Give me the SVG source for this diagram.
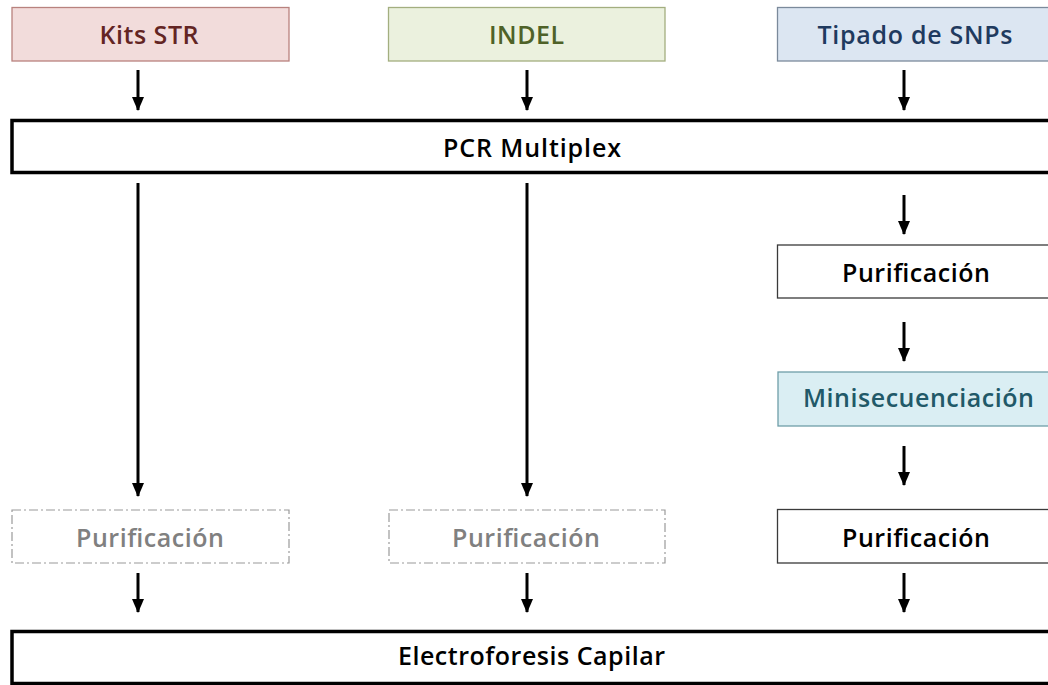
<svg xmlns="http://www.w3.org/2000/svg" width="1048" height="685" viewBox="0 0 1048 685">
<defs>
<marker id="ah" markerUnits="userSpaceOnUse" markerWidth="16" markerHeight="14" refX="14" refY="7" orient="auto" viewBox="0 0 16 14">
<path d="M1,1 L15,7 L1,13 Z" fill="#000"/>
</marker>
<style>
text{font-family:"Open Sans","Noto Sans","Liberation Sans",sans-serif;font-weight:600;font-size:25px;text-anchor:middle}
.arr{stroke:#000;stroke-width:3;fill:none}
.thin{fill:#fff;stroke:#3a3a3a;stroke-width:1.3}
.thick{fill:#fff;stroke:#000;stroke-width:3.5}
.dash{fill:#fff;stroke:#9a9a9a;stroke-width:1.2;stroke-dasharray:9 3 2 3}
</style>
</defs>
<rect width="1048" height="685" fill="#fff"/>
<g id="connectors">
<line class="arr" x1="138" y1="70" x2="138" y2="110" marker-end="url(#ah)"/>
<line class="arr" x1="527" y1="70" x2="527" y2="110" marker-end="url(#ah)"/>
<line class="arr" x1="904" y1="70" x2="904" y2="110" marker-end="url(#ah)"/>
<line class="arr" x1="138" y1="183" x2="138" y2="496" marker-end="url(#ah)"/>
<line class="arr" x1="527" y1="183" x2="527" y2="496" marker-end="url(#ah)"/>
<line class="arr" x1="904" y1="195" x2="904" y2="234" marker-end="url(#ah)"/>
<line class="arr" x1="904" y1="322" x2="904" y2="361" marker-end="url(#ah)"/>
<line class="arr" x1="904" y1="446" x2="904" y2="485" marker-end="url(#ah)"/>
<line class="arr" x1="138" y1="573" x2="138" y2="612" marker-end="url(#ah)"/>
<line class="arr" x1="527" y1="573" x2="527" y2="612" marker-end="url(#ah)"/>
<line class="arr" x1="904" y1="573" x2="904" y2="612" marker-end="url(#ah)"/>
</g>
<g id="kits-str">
<rect x="12" y="7.5" width="277" height="53.5" fill="#f2dcdb" stroke="#b8827e" stroke-width="1.3"/>
<text x="149" y="44" fill="#632523" textLength="99">Kits STR</text>
</g>
<g id="indel">
<rect x="388.5" y="7.5" width="276.5" height="53.5" fill="#ebf1de" stroke="#a3ae7f" stroke-width="1.3"/>
<text x="526.5" y="44" fill="#4f6228" textLength="75">INDEL</text>
</g>
<g id="tipado-snps">
<rect x="777.5" y="7.5" width="290" height="53.5" fill="#dce6f2" stroke="#7b8a9b" stroke-width="1.3"/>
<text x="915" y="44" fill="#1f3a5f" textLength="195">Tipado de SNPs</text>
</g>
<g id="pcr-multiplex">
<rect class="thick" x="12" y="120.5" width="1060" height="52"/>
<text x="532" y="157" fill="#000" textLength="178">PCR Multiplex</text>
</g>
<g id="purificacion-snp-1">
<rect class="thin" x="777.5" y="245" width="290" height="53"/>
<text x="916" y="282" fill="#000" textLength="148">Purificación</text>
</g>
<g id="minisecuenciacion">
<rect x="778" y="372" width="290" height="54" fill="#daeef3" stroke="#6f9ea8" stroke-width="1.3"/>
<text x="918.5" y="407" fill="#215968" textLength="231">Minisecuenciación</text>
</g>
<g id="purificacion-str">
<rect class="dash" x="12" y="510" width="277" height="53"/>
<text x="150" y="547" fill="#808080" textLength="148">Purificación</text>
</g>
<g id="purificacion-indel">
<rect class="dash" x="389" y="510" width="276" height="53"/>
<text x="526" y="547" fill="#808080" textLength="148">Purificación</text>
</g>
<g id="purificacion-snp-2">
<rect class="thin" x="777.5" y="509.5" width="290" height="53.5"/>
<text x="916" y="547" fill="#000" textLength="148">Purificación</text>
</g>
<g id="electroforesis">
<rect class="thick" x="12" y="631.5" width="1060" height="52"/>
<text x="531.5" y="665" fill="#000" textLength="267">Electroforesis Capilar</text>
</g>
</svg>
